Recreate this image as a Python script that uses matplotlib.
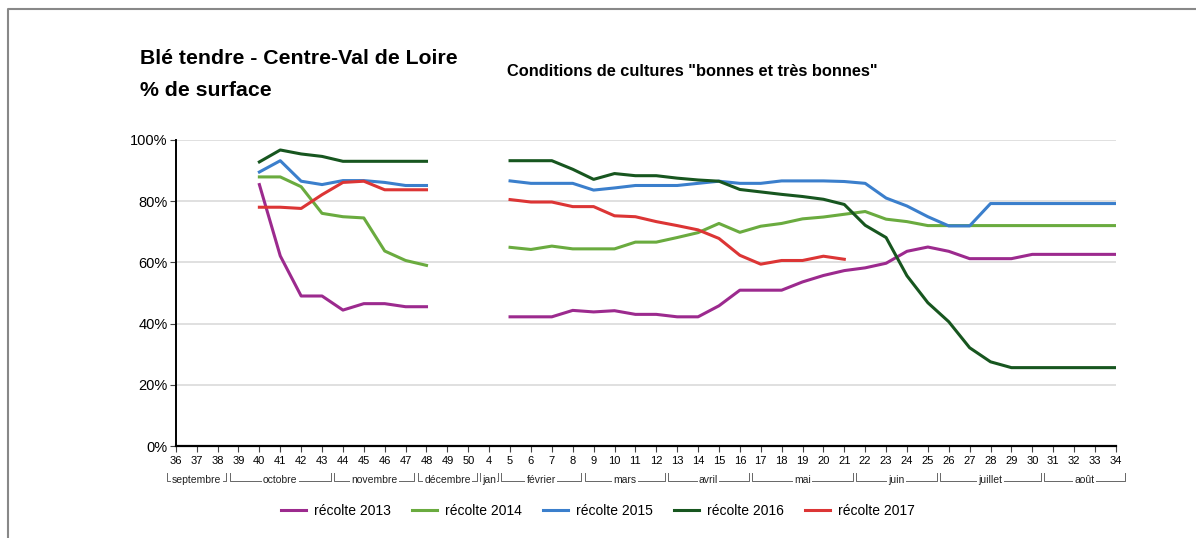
import numpy as np
import matplotlib.pyplot as plt
import matplotlib.transforms as mtransforms
from matplotlib.lines import Line2D

plt.rcParams['font.family'] = ['Liberation Sans', 'DejaVu Sans']

nan = np.nan

# weeks shown on the x axis (sept -> aug)
weeks = [36, 37, 38, 39, 40, 41, 42, 43, 44, 45, 46, 47, 48, 49, 50, 4,
         5, 6, 7, 8, 9, 10, 11, 12, 13, 14, 15, 16, 17, 18, 19, 20, 21,
         22, 23, 24, 25, 26, 27, 28, 29, 30, 31, 32, 33, 34]

# month label, first week index, last week index
months = [("septembre", 0, 2), ("octobre", 3, 7), ("novembre", 8, 11),
          ("décembre", 12, 14), ("jan", 15, 15), ("février", 16, 19),
          ("mars", 20, 23), ("avril", 24, 27), ("mai", 28, 32),
          ("juin", 33, 36), ("juillet", 37, 41), ("août", 42, 45)]

pad4 = [nan] * 4   # weeks 36-39 no data
gap3 = [nan] * 3   # weeks 49, 50, 4 no data

r2013 = pad4 + [85.4, 62.1, 49.0, 49.0, 44.4, 46.5, 46.5, 45.5, 45.5] + gap3 + \
    [42.2, 42.2, 42.2, 44.3, 43.8, 44.2, 43.0, 43.0, 42.2, 42.2, 45.8, 50.9,
     50.9, 50.9, 53.6, 55.7, 57.3, 58.2, 59.7, 63.6, 65.0, 63.6, 61.2, 61.2,
     61.2, 62.6, 62.6, 62.6, 62.6, 62.6]
r2014 = pad4 + [87.9, 87.9, 84.7, 76.0, 74.9, 74.5, 63.7, 60.6, 59.0] + gap3 + \
    [64.9, 64.2, 65.3, 64.4, 64.4, 64.4, 66.6, 66.6, 68.1, 69.7, 72.7, 69.8,
     71.8, 72.7, 74.2, 74.8, 75.7, 76.6, 74.1, 73.3, 72.0, 72.0, 72.0, 72.0,
     72.0, 72.0, 72.0, 72.0, 72.0, 72.0]
r2015 = pad4 + [89.5, 93.2, 86.5, 85.4, 86.7, 86.7, 86.1, 85.1, 85.1] + gap3 + \
    [86.6, 85.8, 85.8, 85.8, 83.6, 84.3, 85.1, 85.1, 85.1, 85.8, 86.5, 85.8,
     85.8, 86.6, 86.6, 86.6, 86.4, 85.8, 81.0, 78.4, 74.9, 71.9, 71.9, 79.2,
     79.2, 79.2, 79.2, 79.2, 79.2, 79.2]
r2016 = pad4 + [92.8, 96.7, 95.4, 94.6, 93.0, 93.0, 93.0, 93.0, 93.0] + gap3 + \
    [93.2, 93.2, 93.2, 90.4, 87.1, 89.0, 88.3, 88.3, 87.5, 86.9, 86.5, 83.8,
     83.0, 82.2, 81.5, 80.6, 78.9, 72.1, 68.1, 55.6, 46.8, 40.6, 32.1, 27.5,
     25.6, 25.6, 25.6, 25.6, 25.6, 25.6]
r2017 = pad4 + [78.0, 78.0, 77.6, 82.1, 86.1, 86.5, 83.7, 83.7, 83.7] + gap3 + \
    [80.5, 79.7, 79.7, 78.2, 78.2, 75.2, 74.9, 73.3, 72.0, 70.6, 67.8, 62.3,
     59.4, 60.6, 60.6, 62.0, 61.0] + [nan] * 13

series = [("récolte 2013", r2013, "#9c2a8e"),
          ("récolte 2014", r2014, "#6aab3f"),
          ("récolte 2015", r2015, "#3b7fcc"),
          ("récolte 2016", r2016, "#17561f"),
          ("récolte 2017", r2017, "#dc3535")]

fig = plt.figure(figsize=(11.96, 5.38), dpi=100)
ax = fig.add_axes([0.147, 0.171, 0.786, 0.569])

x = np.arange(len(weeks))
for name, vals, col in series:
    ax.plot(x, vals, color=col, lw=2.2, label=name, solid_joinstyle='round')

ax.set_xlim(0, len(weeks) - 1)
ax.set_ylim(0, 100)
ax.set_yticks([0, 20, 40, 60, 80, 100])
ax.set_yticklabels(["0%", "20%", "40%", "60%", "80%", "100%"], fontsize=10.5)
ax.set_xticks(x)
ax.set_xticklabels([str(w) for w in weeks], fontsize=8)
ax.tick_params(axis='x', length=4, width=0.8, color='#444444', pad=3)
ax.tick_params(axis='y', length=4, width=0.8, color='#444444', pad=2)
ax.grid(axis='y', color='#dddddd', lw=1.3)
ax.set_axisbelow(True)
for s in ['top', 'right']:
    ax.spines[s].set_visible(False)
ax.spines['left'].set_linewidth(1.4)
ax.spines['bottom'].set_linewidth(1.6)

# month brackets under the week labels
trans = mtransforms.blended_transform_factory(ax.transData, ax.transAxes)
y_lo, y_hi = -0.115, -0.087
for lab, i0, i1 in months:
    a, b = i0 - 0.42, i1 + 0.42
    ax.add_line(Line2D([a, a, b, b], [y_hi, y_lo, y_lo, y_hi], transform=trans,
                       color='#666666', lw=0.7, clip_on=False))
    ax.text((a + b) / 2, y_lo + 0.004, lab, transform=trans, ha='center', va='center',
            fontsize=7.5, color='#222222',
            bbox=dict(facecolor='white', edgecolor='none', pad=1.0))

# titles
fig.text(140 / 1196, 1 - 58 / 538, "Blé tendre - Centre-Val de Loire",
         fontsize=15.3, fontweight='bold', va='center')
fig.text(140 / 1196, 1 - 90 / 538, "% de surface",
         fontsize=15.3, fontweight='bold', va='center')
fig.text(507 / 1196, 1 - 72 / 538, 'Conditions de cultures "bonnes et très bonnes"',
         fontsize=11.8, fontweight='bold', va='center')

fig.legend(loc='center', bbox_to_anchor=(0.5, 1 - 511 / 538), ncol=5, frameon=False,
           fontsize=10, handlelength=1.8, columnspacing=1.5, handletextpad=0.6)

# frame on top and left of the figure
fig.add_artist(Line2D([8 / 1196, 8 / 1196, 1], [0, 1 - 9 / 538, 1 - 9 / 538],
                      transform=fig.transFigure, color='#888888', lw=1.5))

fig.savefig("out.png", dpi=100)
